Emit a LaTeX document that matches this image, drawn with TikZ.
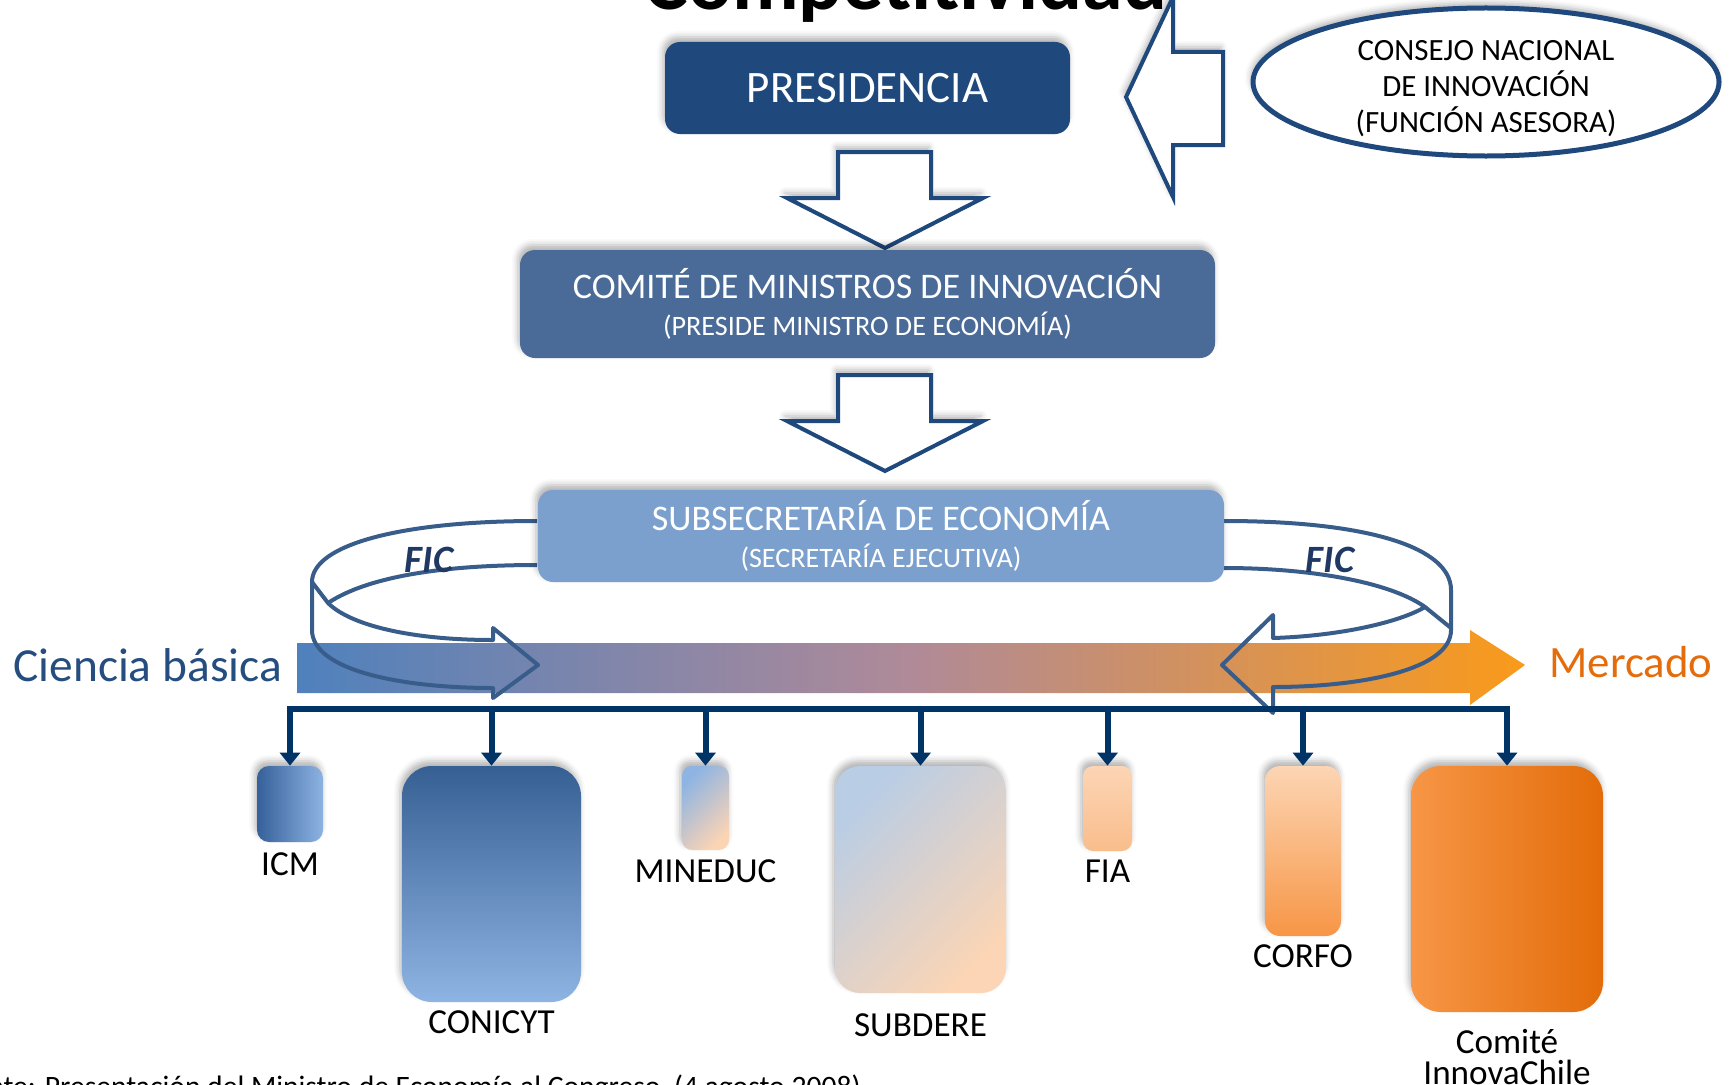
\documentclass[tikz,border=0pt]{standalone}
\usepackage{fontspec}
\setmainfont{Carlito}
\usetikzlibrary{shapes.geometric,arrows.meta,shadows.blur}

\begin{document}
\begin{tikzpicture}[x=0.2mm,y=-0.2mm,
  soft/.style={blur shadow={shadow xshift=-0.4mm,shadow yshift=1mm,shadow blur radius=1.2mm,shadow opacity=30}},
  govbox/.style={soft,rounded corners=3mm,text=white,align=center,inner sep=0pt},
  blockarrow/.style={soft,draw=presblue,line width=0.8mm,fill=white,line join=miter},
  ficarrow/.style={draw=ficline,line width=0.8mm,line join=round},
  fic/.style={inner sep=0pt,text=fictext,font=\fontsize{22}{26}\selectfont\bfseries\itshape},
  unit/.style={soft,rounded corners=#1,inner sep=0pt},
  drop/.style={draw=busline,line width=1.2mm,-{Triangle[length=2.6mm,width=4mm]}},
  lbl/.style={font=\fontsize{20}{17.5}\selectfont,align=center,inner sep=0pt}]
\definecolor{presblue}{HTML}{1F497D}
\definecolor{comiteblue}{HTML}{4A6B98}
\definecolor{subseblue}{HTML}{7BA0CD}
\definecolor{ficline}{HTML}{385D8A}
\definecolor{fictext}{HTML}{1F3864}
\definecolor{busline}{HTML}{003366}
\definecolor{ciencia}{HTML}{254D7F}
\definecolor{mercado}{HTML}{E46C0A}
\definecolor{barL}{HTML}{4F81BD}
\definecolor{barM}{HTML}{B08A98}
\definecolor{barR}{HTML}{FA9A1A}
\definecolor{icmA}{HTML}{36609A}
\definecolor{icmB}{HTML}{8DB3E2}
\definecolor{conA}{HTML}{365F93}
\definecolor{conB}{HTML}{8EB4E3}
\definecolor{minA}{HTML}{8EB4E3}
\definecolor{minB}{HTML}{FBD4B4}
\definecolor{subA}{HTML}{B9CDE5}
\definecolor{subB}{HTML}{FBD5B5}
\definecolor{fiaA}{HTML}{FCD5B5}
\definecolor{fiaB}{HTML}{F9BD8C}
\definecolor{corA}{HTML}{FCD5B4}
\definecolor{corB}{HTML}{F79646}
\definecolor{innA}{HTML}{F79646}
\definecolor{innB}{HTML}{E36C09}
\useasboundingbox (0,0) rectangle (1729,1084);
\clip (0,0) rectangle (1729,1084);

\node[anchor=base,inner sep=0pt,font=\fontsize{46.7}{50}\selectfont\bfseries] (title) at (906,10) {Competitividad};

\node[govbox,fill=presblue,minimum width=81mm,minimum height=18.4mm,font=\fontsize{25.6}{30}\selectfont] (pres) at (867.5,88) {PRESIDENCIA};
\node[soft,ellipse,draw=presblue,line width=1mm,fill=white,minimum width=93.2mm,minimum height=29.6mm] (consejo) at (1486,82) {};
\node[align=center,inner sep=0pt,font=\fontsize{17.6}{20.5}\selectfont] (consejotxt) at (1486,89) {CONSEJO NACIONAL\\DE INNOVACIÓN\\(FUNCIÓN ASESORA)};
\draw[blockarrow] (1126,97) -- (1173,-3) -- (1173,52) -- (1223,52) -- (1223,145) -- (1173,145) -- (1173,197) -- cycle;

\foreach \ya in {152,375}
  \draw[blockarrow] (838,\ya) -- (931,\ya) -- (931,\ya+46) -- (983,\ya+46) -- (885,\ya+96) -- (787,\ya+46) -- (838,\ya+46) -- cycle;

\node[govbox,fill=comiteblue,minimum width=139mm,minimum height=21.6mm,font=\fontsize{20.5}{21.3}\selectfont] (comite) at (867.5,304)
  {COMITÉ DE MINISTROS DE INNOVACIÓN\\ \fontsize{16}{21.3}\selectfont (PRESIDE MINISTRO DE ECONOMÍA)};

% barra ciencia -> mercado
\shade[left color=barL,right color=barR,middle color=barM] (297,643) -- (1470,643) -- (1470,630) -- (1525,665) -- (1470,705) -- (1470,693) -- (297,693) -- cycle;
\node[anchor=base west,inner sep=0pt,text=ciencia,font=\fontsize{27}{30}\selectfont] (ciencia) at (13,681) {Ciencia básica};
\node[anchor=base west,inner sep=0pt,text=mercado,font=\fontsize{25.5}{30}\selectfont] (mercado) at (1549,677) {Mercado};

\draw[ficarrow] (537,521) .. controls (400,521) and (312,545) .. (312,582) -- (312,630) .. controls (312,670) and (400,688) .. (493,688) -- (493,698) -- (538,665) -- (493,628) -- (493,640) .. controls (410,640) and (350,625) .. (328,603) .. controls (370,575) and (450,565) .. (537,565);
\draw[ficarrow] (312,582) -- (328,603);
\draw[ficarrow] (1224,521) .. controls (1370,521) and (1451,548) .. (1451,590) -- (1451,630) .. controls (1451,670) and (1360,687) .. (1273,687) -- (1273,713) -- (1222,665) -- (1273,615) -- (1273,638) .. controls (1340,636) and (1400,622) .. (1425,607) .. controls (1390,582) and (1310,568) .. (1224,568);
\draw[ficarrow] (1425,607) -- (1451,628);

\node[govbox,fill=subseblue,minimum width=137.2mm,minimum height=18.4mm,font=\fontsize{20.5}{20.8}\selectfont] (subse) at (881,536)
  {SUBSECRETARÍA DE ECONOMÍA\\ \fontsize{16}{20.8}\selectfont (SECRETARÍA EJECUTIVA)};
\node[fic] (ficL) at (429,560) {FIC};
\node[fic] (ficR) at (1330,560) {FIC};

% instituciones
\coordinate (bus) at (0,709);
\foreach \nm/\cx/\cy/\bw/\bh/\rad/\colA/\colB/\ang/\dist/\txt in {
  icm/290/804/13.2/15.2/2.4/icmA/icmB/90/2/ICM,
  conicyt/491.5/884/35.8/47.2/6/conA/conB/0/1.6/CONICYT,
  mineduc/705.5/808/9.4/16.8/2/minA/minB/45/1.8/MINEDUC,
  subdere/920.5/879.5/34.2/45.4/5/subA/subB/45/4/SUBDERE,
  fia/1107.5/808.5/9.8/17/2/fiaA/fiaB/0/1.6/FIA,
  corfo/1303/851/15.2/34/3/corA/corB/0/1.6/CORFO,
  innova/1507/889/38.4/49.2/6/innA/innB/90/3.4/{Comité\\InnovaChile}}
{ \node[unit=\rad mm,left color=\colA,right color=\colB,shading angle=\ang,minimum width=\bw mm,minimum height=\bh mm,
    label={[lbl,label distance=\dist mm]below:\txt}] (\nm) at (\cx,\cy) {};
  \draw[drop] (bus -| \nm.north) -- (\nm.north);}
\draw[busline,line width=1.2mm,line cap=rect] (bus -| icm.north) -- (bus -| innova.north);

\node[anchor=base east,inner sep=0pt,font=\fontsize{16.85}{20}\selectfont] (fuente) at (861,1096) {Fuente: Presentación del Ministro de Economía al Congreso, (4 agosto 2008)};
\end{tikzpicture}
\end{document}
